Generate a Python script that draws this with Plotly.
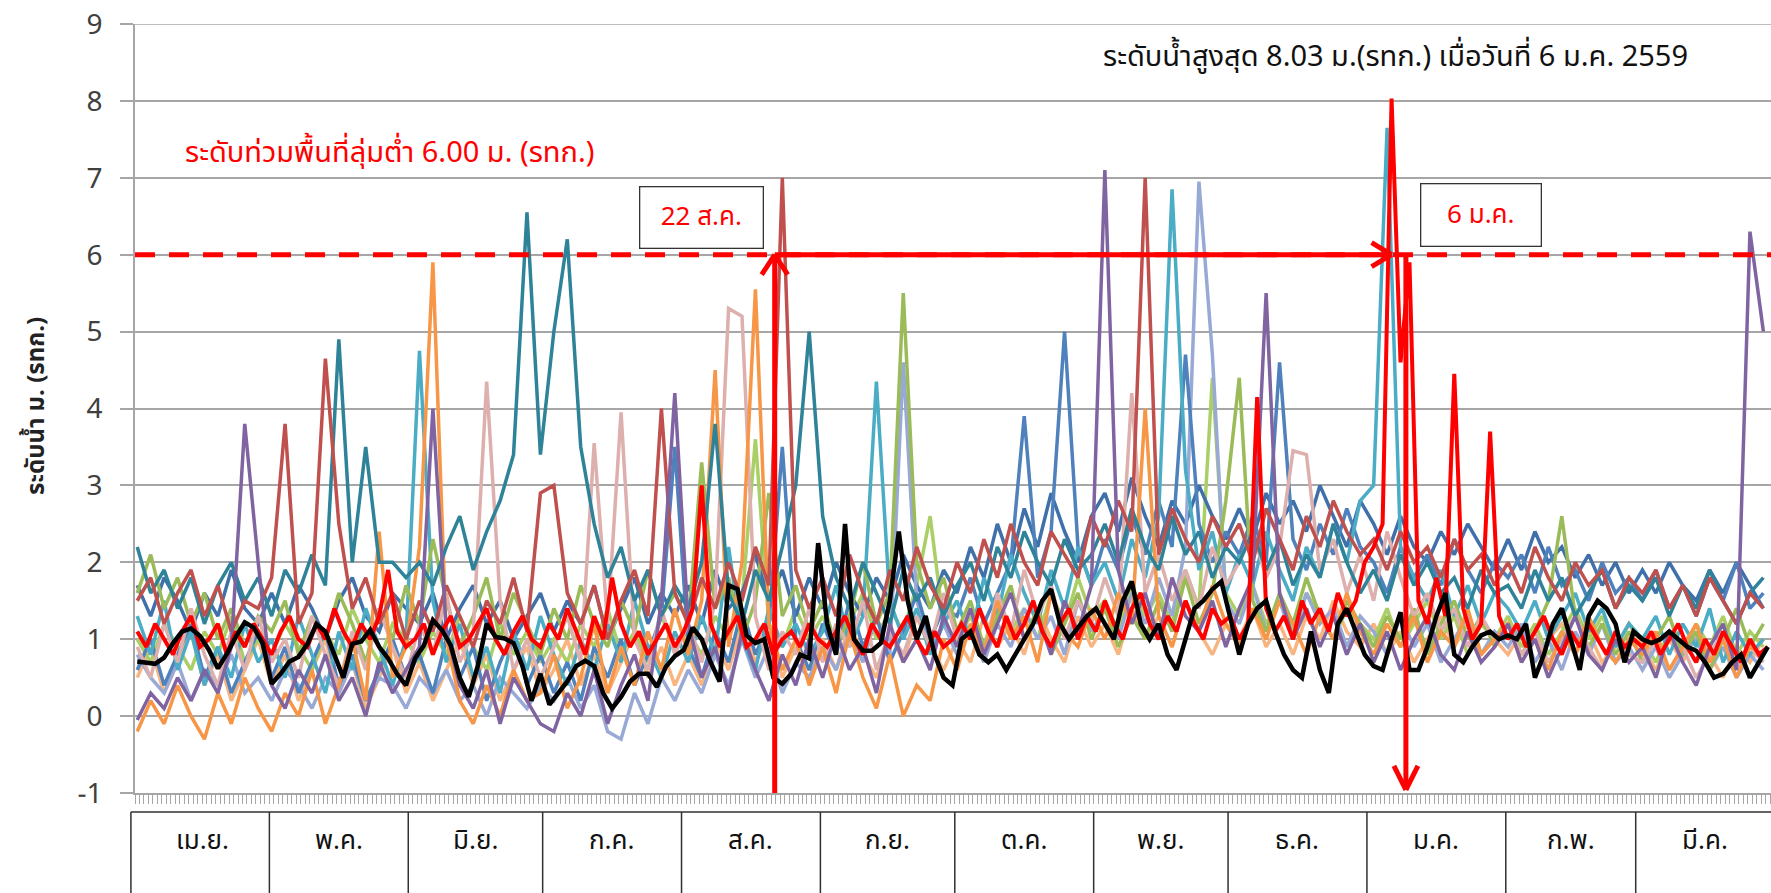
import plotly.graph_objects as go

FONT = "Leelawadee UI, Tahoma, Noto Sans Thai, Noto Sans, Arial, sans-serif"

months = ["เม.ย.", "พ.ค.", "มิ.ย.", "ก.ค.", "ส.ค.", "ก.ย.", "ต.ค.", "พ.ย.", "ธ.ค.", "ม.ค.", "ก.พ.", "มี.ค."]
month_start = [0, 30, 61, 91, 122, 153, 183, 214, 244, 275, 306, 335, 366]

days3 = list(range(0, 366, 3))
days2 = list(range(0, 366, 2))

# ---- historical years (every 3rd day) ----
s_purple = [
    -0.05, 0.3, 0.1, 0.5, 0.2, 0.6, 0.3, 0.9, 3.8, 2.0,
    0.4, 0.1, 0.6, 0.3, 0.8, 0.2, 0.5, 0.0, 0.7, 0.3, 0.6,
    0.9, 4.0, 1.1, 0.4, 0.1, 0.6, -0.1, 0.5, 0.2, -0.1,
    -0.2, 0.3, 0.0, 0.6, -0.1, 0.4, 0.8, 0.2, 1.5, 4.2,
    1.2, 0.5, 0.9, 0.3, 1.1, 0.6, 0.2, 0.8, 0.4, 1.0,
    0.5, 1.1, 0.6, 0.9, 0.3, 1.2, 0.7, 1.0, 0.6, 1.3,
    0.9, 1.4, 0.8, 1.2, 1.6, 1.0, 1.3, 0.8, 1.5, 1.1, 1.7,
    7.1, 1.9, 1.2, 1.6, 1.0, 1.8, 1.3, 1.1, 1.5, 0.9,
    1.4, 1.8, 5.5, 1.6, 1.0, 1.4, 0.9, 1.3, 0.8, 1.2,
    0.7, 1.1, 0.6, 1.0, 1.3, 0.8, 0.6, 1.1, 0.7, 0.9,
    1.2, 0.7, 1.0, 0.5, 0.9, 1.3, 0.8, 0.6, 1.0, 0.7,
    0.9, 0.5, 1.1, 0.7, 0.4, 0.9, 1.2, 0.6, 6.3, 5.0]

s_brownred = [
    1.5, 1.8, 1.2, 1.6, 1.9, 1.3, 1.7, 1.1, 1.5, 1.4,
    1.8, 3.8, 1.2, 1.6, 4.65, 2.5, 1.4, 1.8, 1.2, 1.6, 1.0,
    1.5, 1.1, 1.7, 1.3, 0.9, 1.5, 1.2, 1.8, 1.1, 2.9,
    3.0, 1.6, 1.2, 1.7, 1.0, 1.5, 1.9, 1.3, 4.0, 1.6,
    1.2, 1.8, 1.4, 2.0, 1.5, 2.2, 1.7, 7.0, 1.9, 1.4,
    1.8, 1.3, 2.1, 1.6, 1.2, 1.9, 1.5, 2.2, 1.7, 1.4,
    2.0, 1.6, 2.3, 1.8, 2.5, 2.0, 1.7, 2.4, 2.1, 1.8, 2.6,
    2.2, 2.8, 2.4, 7.0, 2.1, 2.7, 2.3, 2.0, 2.6, 2.2,
    2.5, 2.0, 2.7, 2.3, 1.9, 2.6, 2.2, 2.8, 2.4, 2.1,
    2.3, 1.9, 2.4, 2.0, 2.2, 1.8, 2.3, 1.9, 2.1, 1.7,
    2.0, 1.6, 2.2, 1.8, 1.5, 2.0, 1.7, 1.9, 1.4, 1.8,
    1.6, 1.9, 1.4, 1.7, 1.3, 1.8, 1.5, 1.2, 1.6, 1.4]

s_teal = [
    2.2, 1.6, 1.9, 1.4, 1.8, 1.2, 1.7, 2.0, 1.5, 1.8,
    1.3, 1.9, 1.6, 2.1, 1.7, 4.9, 2.0, 3.5, 2.0, 2.0, 1.8,
    2.0, 1.7, 2.2, 2.6, 1.9, 2.4, 2.8, 3.4, 6.55, 3.4,
    5.0, 6.2, 3.5, 2.5, 1.8, 2.2, 1.5, 1.9, 1.3, 1.7,
    1.4, 2.0, 3.8, 1.6, 1.2, 1.9, 1.5, 2.2, 3.0, 5.0,
    2.6, 1.8, 1.4, 2.0, 1.6, 1.2, 1.9, 1.5, 1.8, 1.3,
    1.7, 2.0, 1.5, 2.2, 1.8, 2.4, 2.0, 1.7, 2.3, 1.9, 2.1,
    2.5, 2.0, 2.7, 2.2, 1.9, 2.6, 2.1, 2.4, 1.8, 2.2,
    2.0, 2.4, 1.9, 2.3, 1.7, 2.1, 1.8, 2.5, 2.0, 1.6,
    1.9, 1.5, 2.1, 1.7, 2.0, 1.6, 1.8, 1.4, 1.9, 1.6,
    1.7, 1.4, 1.9, 1.5, 1.8, 1.3, 1.6, 1.9, 1.4, 1.7,
    1.5, 1.8, 1.3, 1.7, 1.4, 1.9, 1.5, 1.2, 1.6, 1.8]

s_orange = [
    -0.2, 0.2, -0.1, 0.4, 0.0, -0.3, 0.3, -0.1, 0.5, 0.1,
    -0.2, 0.3, 0.0, 0.6, -0.1, 0.4, 1.0, 0.2, 2.4, 0.5, 0.9,
    2.2, 5.9, 1.0, 0.2, -0.1, 0.4, 0.0, 0.6, 0.2, 0.3,
    0.8, 0.1, 0.5, 1.2, 0.3, 0.9, 0.4, 1.1, 0.6, 1.4,
    0.8, 1.5, 4.5, 0.9, 2.0, 5.55, 1.2, 0.6, 1.0, 0.4,
    0.9, 0.3, 1.1, 0.5, 0.1, 0.8, 0.0, 0.4, 0.2, 1.0,
    0.6, 1.2, 0.8, 1.5, 1.0, 1.3, 0.7, 1.6, 1.1, 0.9, 1.4,
    1.0, 1.6, 1.2, 4.0, 1.3, 0.9, 1.5, 1.1, 1.7, 1.2,
    0.9, 1.4, 1.0, 1.5, 1.2, 0.8, 1.3, 1.0, 1.6, 1.1,
    0.8, 1.2, 0.9, 1.3, 0.7, 1.1, 0.9, 1.4, 0.8, 1.0,
    1.2, 0.7, 1.0, 0.6, 1.1, 0.8, 1.3, 0.9, 0.7, 1.0,
    0.8, 1.1, 0.6, 0.9, 1.2, 0.7, 1.0, 0.5, 0.9, 0.8]

s_pink = [
    0.9, 0.5, 1.2, 0.7, 1.4, 0.8, 0.4, 1.1, 0.6, 1.3,
    0.7, 1.0, 0.5, 1.3, 0.8, 0.4, 1.1, 0.6, 1.4, 0.9, 0.5,
    1.2, 0.8, 1.6, 0.7, 1.1, 4.35, 1.5, 0.6, 1.0, 0.5,
    0.9, 1.3, 0.7, 3.55, 1.2, 3.95, 1.0, 0.6, 1.4, 0.8,
    1.2, 0.7, 1.5, 5.3, 5.2, 1.3, 0.6, 1.1, 0.8, 1.4,
    0.7, 1.2, 0.9, 1.5, 0.6, 1.1, 0.8, 1.3, 0.9, 1.6,
    1.0, 1.4, 0.8, 1.6, 1.1, 1.9, 1.3, 1.7, 1.0, 1.5, 1.2,
    1.8, 1.3, 4.2, 1.6, 2.1, 1.5, 1.9, 1.4, 2.2, 1.7,
    2.0, 2.4, 1.8, 2.2, 3.45, 3.4, 1.9, 2.3, 1.6, 2.1,
    1.5, 2.4, 1.8, 1.3, 1.6, 1.1, 1.4, 0.9, 1.3, 1.0,
    1.2, 0.8, 1.1, 0.7, 1.0, 1.3, 0.9, 0.6, 1.1, 0.8,
    0.7, 1.0, 0.6, 0.9, 0.5, 0.8, 1.1, 0.6, 0.9, 0.7]

s_green = [
    1.6, 2.1, 1.4, 1.8, 1.2, 1.6, 1.0, 1.4, 0.9, 1.3,
    1.1, 1.5, 0.8, 1.3, 1.0, 1.6, 1.2, 0.7, 1.4, 1.0, 1.7,
    1.2, 2.3, 1.5, 0.9, 1.3, 1.8, 1.0, 1.6, 1.2, 0.8,
    1.4, 1.0, 1.7, 1.2, 0.9, 1.5, 1.1, 1.9, 1.3, 1.6,
    1.2, 3.3, 1.4, 1.8, 1.0, 1.5, 2.9, 1.3, 1.7, 1.1,
    1.5, 0.9, 1.3, 2.0, 1.2, 1.6, 5.5, 2.0, 1.4, 1.8,
    1.1, 1.5, 0.9, 1.3, 1.7, 1.0, 1.4, 0.8, 1.2, 1.6, 1.0,
    1.4, 0.9, 1.3, 1.0, 1.5, 1.1, 1.8, 1.2, 1.6, 2.8,
    4.4, 1.5, 1.1, 1.6, 1.2, 1.8, 1.3, 1.0, 1.5, 1.2,
    0.9, 1.3, 1.0, 1.4, 0.8, 1.2, 1.5, 1.0, 1.3, 0.9,
    1.2, 0.8, 1.1, 1.5, 2.6, 1.3, 0.9, 1.2, 0.8, 1.1,
    0.7, 1.0, 1.3, 0.8, 1.1, 0.6, 1.0, 1.4, 0.9, 1.2]

s_aqua = [
    1.3, 0.8, 1.5, 0.6, 1.1, 0.4, 0.9, 0.5, 1.2, 0.7,
    1.0, 0.5, 1.3, 0.8, 0.3, 1.1, 0.6, 1.4, 0.9, 0.4, 1.0,
    4.75, 1.5, 0.7, 1.2, 0.5, 0.9, 0.3, 1.1, 0.6, 1.3,
    0.8, 0.4, 1.0, 0.6, 1.2, 0.7, 1.5, 0.9, 0.5, 1.1,
    0.7, 1.3, 0.8, 2.2, 1.0, 0.6, 1.4, 0.9, 1.2, 0.8,
    1.1, 1.7, 0.9, 1.3, 4.35, 1.5, 1.0, 1.4, 0.8, 1.2,
    1.5, 1.0, 1.8, 1.3, 2.1, 1.6, 1.2, 1.9, 1.4, 2.2, 1.7,
    2.0, 1.5, 2.3, 1.8, 2.6, 6.85, 3.2, 1.9, 2.4, 1.6,
    2.1, 1.7, 2.4, 1.9, 1.5, 2.2, 1.8, 2.5, 2.0, 2.8,
    3.0, 7.65, 2.2, 1.8, 1.5, 1.9, 1.3, 1.7, 1.2, 1.6,
    1.4, 1.1, 1.5, 1.0, 1.3, 1.6, 1.1, 1.4, 0.9, 1.2,
    1.0, 1.3, 0.8, 1.2, 0.9, 1.4, 0.7, 1.1, 0.8, 1.0]

s_blue = [
    0.6, 1.0, 0.4, 0.8, 1.2, 0.5, 0.9, 0.3, 0.7, 1.1,
    0.5, 0.9, 0.3, 0.7, 1.1, 0.4, 0.8, 0.2, 0.6, 1.0, 0.5,
    0.8, 0.3, 1.0, 0.5, 0.9, 0.2, 0.7, 1.1, 0.4, 0.8,
    0.3, 0.7, 0.2, 0.9, 0.5, 1.0, 0.4, 0.8, 1.3, 3.5,
    0.9, 0.5, 1.1, 0.7, 1.4, 0.8, 1.2, 3.5, 1.0, 0.6,
    1.2, 0.8, 1.5, 0.9, 1.3, 0.7, 1.1, 1.6, 1.0, 1.4,
    1.3, 1.8, 1.2, 1.6, 2.0, 3.9, 1.8, 2.4, 5.0, 2.2, 1.7,
    2.3, 1.9, 2.6, 2.1, 2.8, 2.2, 4.7, 2.5, 2.0, 2.4,
    2.1, 2.6, 2.0, 4.6, 2.3, 1.9, 2.5, 2.1, 2.7, 2.2,
    2.0, 1.6, 2.2, 1.8, 2.1, 1.7, 2.3, 1.9, 1.6, 2.0,
    1.8, 2.1, 1.6, 2.2, 1.7, 1.9, 1.5, 2.0, 1.6, 1.8,
    1.5, 1.9, 1.4, 1.7, 1.3, 1.8, 1.5, 2.0, 1.4, 1.6]

s_lavender = [
    0.8, 0.5, 0.3, 0.7, 0.2, 0.6, 0.4, 0.8, 0.3, 0.5,
    0.2, 0.6, 0.4, 0.1, 0.5, 0.3, 0.7, 0.2, 0.5, 0.4, 0.1,
    0.5, 0.3, 0.6, 0.2, 0.4, 0.0, 0.5, 0.3, 0.1, 0.4,
    0.2, 0.5, 0.1, 0.4, -0.2, -0.3, 0.3, -0.1, 0.5, 0.2,
    0.6, 0.3, 0.8, 0.4, 1.0, 0.5, 0.9, 0.3, 0.7, 0.5,
    0.9, 0.6, 1.1, 0.7, 1.3, 0.8, 4.6, 1.5, 0.9, 1.2,
    0.8, 1.1, 0.7, 1.2, 0.9, 1.4, 1.0, 1.3, 0.8, 1.5, 1.1,
    1.4, 1.0, 1.6, 1.2, 1.8, 1.3, 2.2, 6.95, 4.7, 1.5,
    1.2, 1.7, 1.1, 1.5, 1.0, 1.6, 1.2, 1.4, 0.9, 1.3,
    1.1, 0.8, 1.3, 0.9, 1.2, 0.7, 1.0, 1.3, 0.8, 1.1,
    0.9, 1.2, 0.7, 1.0, 0.6, 1.1, 0.8, 1.2, 0.7, 0.9,
    0.6, 0.9, 0.5, 0.8, 1.0, 0.6, 0.9, 0.5, 0.8, 0.6]

s_steel = [
    1.7, 1.3, 1.8, 1.5, 1.1, 1.6, 1.3, 1.9, 1.4, 1.2,
    1.6, 1.2, 1.7, 1.4, 1.0, 1.5, 1.8, 1.3, 1.1, 1.6, 1.4,
    1.2, 1.6, 1.0, 1.4, 1.7, 1.2, 1.5, 1.0, 1.3, 1.6,
    1.1, 1.5, 1.2, 1.7, 1.0, 1.4, 1.8, 1.2, 1.6, 1.3,
    1.7, 1.2, 1.9, 1.4, 1.6, 2.1, 1.5, 1.9, 1.3, 1.8,
    1.4, 2.0, 1.6, 1.3, 1.8, 1.5, 2.1, 1.7, 1.4, 1.9,
    1.6, 2.2, 1.8, 2.5, 2.0, 2.7, 2.2, 2.9, 2.4, 2.0, 2.6,
    2.9, 2.4, 3.1, 2.6, 2.2, 2.8, 2.5, 3.0, 2.6, 2.3,
    2.7, 2.3, 2.9, 2.5, 2.8, 2.4, 3.0, 2.6, 2.2, 2.8,
    2.5, 2.1, 2.6, 2.2, 2.0, 2.4, 2.1, 2.5, 2.2, 1.9,
    2.3, 1.9, 2.4, 2.0, 2.2, 1.8, 2.1, 1.7, 2.0, 1.6,
    1.9, 1.6, 2.0, 1.7, 1.5, 1.9, 1.6, 2.0, 1.7, 1.4]

s_lime = [
    1.0, 0.7, 1.2, 0.9, 0.6, 1.1, 0.8, 1.3, 0.7, 1.0,
    0.8, 1.2, 0.9, 0.6, 1.1, 0.8, 1.4, 1.0, 0.7, 1.2, 1.0,
    0.7, 1.1, 0.8, 1.3, 0.9, 0.6, 1.2, 0.8, 1.1, 0.7,
    1.0, 0.7, 1.2, 0.9, 1.4, 0.8, 1.1, 0.7, 1.3, 0.9,
    1.1, 0.8, 1.3, 1.0, 1.5, 3.6, 1.2, 0.9, 1.4, 1.0,
    1.3, 0.9, 1.2, 1.6, 1.0, 1.4, 1.1, 1.7, 2.6, 1.2,
    1.0, 1.3, 0.9, 1.5, 1.1, 1.4, 1.0, 1.6, 1.2, 1.8, 1.3,
    1.5, 1.1, 1.7, 1.3, 1.6, 1.2, 1.9, 1.4, 4.4, 1.6,
    1.3, 1.7, 1.2, 1.5, 1.1, 1.6, 1.3, 1.0, 1.4, 1.2,
    1.0, 1.4, 0.9, 1.2, 1.5, 1.0, 1.3, 0.8, 1.2, 1.0,
    1.3, 0.9, 1.2, 0.8, 1.1, 1.4, 1.0, 1.3, 0.9, 1.2,
    1.0, 0.7, 1.1, 0.8, 1.2, 0.9, 1.3, 0.8, 1.1, 0.9]

s_peach = [
    0.5, 0.9, 0.3, 0.7, 1.1, 0.4, 0.8, 0.2, 0.6, 1.0,
    0.4, 0.8, 0.2, 0.6, 1.0, 0.3, 0.7, 0.1, 0.5, 0.9, 0.3,
    0.7, 0.2, 0.6, 1.0, 0.4, 0.8, 0.2, 0.6, 0.9, 0.3,
    0.6, 1.0, 0.4, 0.8, 0.3, 0.7, 1.1, 0.5, 0.9, 0.4,
    0.8, 0.4, 1.0, 0.6, 1.2, 0.7, 1.1, 0.5, 0.9, 0.6,
    1.0, 0.6, 1.2, 0.8, 0.5, 1.1, 0.7, 1.3, 0.9, 0.6,
    1.0, 0.7, 1.3, 0.9, 1.2, 0.8, 1.4, 1.0, 0.7, 1.3, 0.9,
    1.2, 0.8, 1.4, 1.0, 1.3, 0.9, 1.5, 1.1, 0.8, 1.2,
    1.0, 1.4, 0.9, 1.2, 0.8, 1.3, 1.0, 1.5, 1.1, 0.9,
    1.2, 0.8, 1.1, 0.7, 1.0, 1.3, 0.9, 1.2, 0.8, 1.0,
    0.8, 1.1, 0.7, 1.0, 1.2, 0.8, 1.1, 0.7, 0.9, 1.2,
    0.9, 0.6, 1.0, 0.7, 1.1, 0.8, 0.5, 0.9, 0.7, 1.0]

# ---- year 2558/59 (red) and current year (black), every 2nd day ----
s_red = [
    1.1, 0.9, 1.2, 1.0, 0.8, 1.1, 1.3, 0.9, 1.0, 1.2, 0.8, 1.1, 0.9, 1.2, 1.0,
    0.8, 1.1, 1.3, 1.0, 0.9, 1.2, 1.0, 1.4, 1.1, 0.9, 1.2, 1.0, 1.3, 1.9, 1.1, 0.9,
    1.0, 1.2, 0.8, 1.1, 1.3, 0.9, 1.0, 1.2, 1.4, 1.0, 0.8, 1.1, 1.3, 1.0, 0.9,
    1.2, 1.0, 1.4, 1.1, 0.8, 1.3, 1.0, 1.8, 1.2, 0.9, 1.1, 0.8, 1.0, 1.2, 0.9,
    1.1, 1.4, 3.0, 1.2, 0.9, 1.1, 1.3, 0.9, 1.0, 1.2, 0.8, 1.0, 1.1, 0.9, 1.2, 1.0,
    0.9, 1.1, 1.3, 1.0, 0.8, 1.2, 1.0, 0.9, 1.1, 1.3, 1.0, 0.8, 1.1, 0.9, 1.0,
    1.2, 1.0, 1.4, 1.1, 0.9, 1.3, 1.0, 1.2, 1.5, 1.1, 0.9, 1.2, 1.4, 1.0, 1.3,
    1.1, 1.5, 1.2, 1.0, 1.4, 1.6, 1.2, 1.0, 1.3, 1.1, 1.5, 1.2, 1.0, 1.4, 1.2,
    1.3, 1.0, 1.2, 4.15, 1.4, 1.1, 1.3, 1.0, 1.5, 1.2, 1.4, 1.1, 1.6, 1.3, 1.5, 2.0,
    2.2, 2.5, 8.03, 4.6, 5.9, 1.5, 1.2, 1.8, 1.3, 4.45, 1.4, 1.0, 1.2, 3.7, 1.3,
    1.0, 1.2, 0.9, 1.1, 1.3, 1.0, 0.8, 1.1, 0.9, 1.2, 1.0, 0.8, 1.1, 0.9, 1.0,
    0.9, 1.1, 0.8, 1.0, 1.2, 0.9, 0.7, 1.0, 0.8, 1.1, 0.9, 0.7, 1.0, 0.8, 0.9]

s_black = [
    0.71, 0.7, 0.68, 0.76, 0.95, 1.1, 1.14, 1.04, 0.86, 0.62, 0.81, 1.03, 1.22, 1.15, 0.95,
    0.42, 0.55, 0.71, 0.77, 0.94, 1.2, 1.1, 0.8, 0.5, 0.94, 0.97, 1.12, 0.9, 0.75, 0.55, 0.4,
    0.75, 0.92, 1.25, 1.12, 0.92, 0.5, 0.25, 0.65, 1.2, 1.03, 1.01, 0.95, 0.65, 0.2, 0.55,
    0.15, 0.3, 0.45, 0.65, 0.72, 0.65, 0.3, 0.1, 0.25, 0.45, 0.55, 0.55, 0.38, 0.64, 0.78,
    0.86, 1.15, 1.0, 0.7, 0.45, 1.7, 1.65, 1.05, 0.95, 1.0, 0.5, 0.42, 0.55, 0.8, 0.75, 2.25,
    1.2, 0.8, 2.5, 1.0, 0.85, 0.85, 0.95, 1.5, 2.4, 1.5, 1.0, 1.3, 0.8, 0.5, 0.4,
    1.0, 1.1, 0.8, 0.7, 0.8, 0.6, 0.8, 1.0, 1.2, 1.5, 1.65, 1.2, 1.0, 1.15, 1.3,
    1.4, 1.2, 1.0, 1.5, 1.75, 1.2, 1.0, 1.2, 0.8, 0.6, 1.0, 1.4, 1.5, 1.65, 1.75,
    1.3, 0.8, 1.2, 1.4, 1.5, 1.1, 0.8, 0.6, 0.5, 1.1, 0.6, 0.3, 1.2, 1.4, 1.1, 0.8,
    0.65, 0.6, 1.0, 1.35, 0.6, 0.6, 0.9, 1.3, 1.6, 0.8, 0.7, 0.9, 1.05, 1.1, 1.0,
    1.05, 1.0, 1.2, 0.5, 0.8, 1.2, 1.4, 1.0, 0.6, 1.3, 1.5, 1.4, 1.2, 0.7, 1.1,
    1.0, 0.95, 1.0, 1.1, 1.0, 0.9, 0.85, 0.7, 0.5, 0.55, 0.7, 0.8, 0.5, 0.7, 0.9]

flood_level = 6.0
peak_day = 280      # 6 ม.ค.
start_day = 142.3   # 22 ส.ค.
arrow_down_day = 283.2

background = [
    (s_peach, "#F9B580"), (s_lime, "#A9CF66"), (s_steel, "#3F70AA"),
    (s_lavender, "#98A9D6"), (s_blue, "#4F81BD"), (s_aqua, "#4BACC6"),
    (s_green, "#9BBB59"), (s_pink, "#DDAFAD"), (s_orange, "#F79646"),
    (s_teal, "#2E8399"), (s_brownred, "#C0504D"), (s_purple, "#8064A2"),
]

fig = go.Figure()
for vals, col in background:
    fig.add_trace(go.Scatter(x=days3, y=vals, mode="lines",
                             line=dict(color=col, width=3.5), hoverinfo="skip"))
fig.add_trace(go.Scatter(x=days2, y=s_red, mode="lines",
                         line=dict(color="#FF0000", width=4), hoverinfo="skip"))
fig.add_trace(go.Scatter(x=days2, y=s_black, mode="lines",
                         line=dict(color="#000000", width=4.5), hoverinfo="skip"))

RED = "#FF0000"
GRID = "#A6A6A6"
shapes = []
shapes.append(dict(type="line", xref="paper", x0=-13 / 1636, x1=1, yref="y", y0=9, y1=9,
                   line=dict(color=GRID, width=1.5), layer="below"))
shapes.append(dict(type="line", xref="paper", x0=0, x1=1, yref="y", y0=flood_level, y1=flood_level,
                   line=dict(color=RED, width=5, dash="20px,14px"), layer="above"))
shapes.append(dict(type="line", xref="x", yref="y", x0=start_day, x1=start_day, y0=-1, y1=flood_level,
                   line=dict(color=RED, width=5)))
for dx in (-13, 13):
    shapes.append(dict(type="line", xref="x", yref="y", xsizemode="pixel", xanchor=start_day,
                       x0=dx, x1=0, ysizemode="pixel", yanchor=flood_level, y0=-20, y1=0,
                       line=dict(color=RED, width=5)))
shapes.append(dict(type="line", xref="x", yref="y", x0=start_day, x1=peak_day, y0=flood_level, y1=flood_level,
                   line=dict(color=RED, width=5)))
for dy in (-12, 12):
    shapes.append(dict(type="line", xref="x", yref="y", xsizemode="pixel", xanchor=peak_day,
                       x0=-20, x1=0, ysizemode="pixel", yanchor=flood_level, y0=dy, y1=0,
                       line=dict(color=RED, width=5)))
shapes.append(dict(type="line", xref="x", yref="y", x0=arrow_down_day, x1=arrow_down_day, y0=flood_level, y1=-0.96,
                   line=dict(color=RED, width=5)))
for dx in (-12, 12):
    shapes.append(dict(type="line", xref="x", yref="y", xsizemode="pixel", xanchor=arrow_down_day,
                       x0=dx, x1=0, ysizemode="pixel", yanchor=-0.96, y0=24, y1=0,
                       line=dict(color=RED, width=5)))

# month table below the axis
TABLE_TOP = -0.0247
TABLE_BOT = -0.14
shapes.append(dict(type="line", xref="paper", yref="paper", x0=-0.0025, x1=1, y0=TABLE_TOP, y1=TABLE_TOP,
                   line=dict(color="#303030", width=1.5)))
shapes.append(dict(type="line", xref="paper", yref="paper", x0=-0.0025, x1=-0.0025, y0=TABLE_TOP, y1=TABLE_BOT,
                   line=dict(color="#303030", width=1.5)))
for s in month_start[1:12]:
    shapes.append(dict(type="line", xref="x", yref="paper", x0=s - 0.5, x1=s - 0.5, y0=TABLE_TOP, y1=TABLE_BOT,
                       line=dict(color="#303030", width=1.5)))

annotations = []
for i, m in enumerate(months):
    annotations.append(dict(xref="x", yref="paper", x=(month_start[i] + month_start[i + 1]) / 2 - 0.5,
                            y=-0.062, text=m, showarrow=False, font=dict(size=26, color="#111111"),
                            xanchor="center", yanchor="middle"))

annotations.append(dict(xref="paper", yref="paper", x=-0.060, y=0.503, text="ระดับน้ำ ม. (รทก.)",
                        textangle=-90, showarrow=False, font=dict(size=24, color="#222222", weight="bold"),
                        xanchor="center", yanchor="middle"))
annotations.append(dict(xref="x", yref="y", x=215.1, y=8.57,
                        text="ระดับน้ำสูงสุด 8.03 ม.(รทก.) เมื่อวันที่ 6 ม.ค. 2559",
                        showarrow=False, xanchor="left", yanchor="middle",
                        font=dict(size=29, color="#111111")))
annotations.append(dict(xref="x", yref="y", x=10.2, y=7.32,
                        text="ระดับท่วมพื้นที่ลุ่มต่ำ 6.00 ม. (รทก.)",
                        showarrow=False, xanchor="left", yanchor="middle",
                        font=dict(size=29, color=RED)))
annotations.append(dict(xref="x", yref="y", x=125.9, y=6.48, text="22 ส.ค.", showarrow=False,
                        width=118, height=56, bordercolor="#333333", borderwidth=1.3, borderpad=2,
                        bgcolor="white", font=dict(size=26, color=RED)))
annotations.append(dict(xref="x", yref="y", x=299.9, y=6.51, text="6 ม.ค.", showarrow=False,
                        width=115, height=57, bordercolor="#333333", borderwidth=1.3, borderpad=2,
                        bgcolor="white", font=dict(size=26, color=RED)))

fig.update_layout(
    width=1771, height=893,
    margin=dict(l=135, r=0, t=24, b=100),
    plot_bgcolor="white", paper_bgcolor="white",
    showlegend=False,
    hovermode=False,
    font=dict(family=FONT),
    shapes=shapes,
    annotations=annotations,
    xaxis=dict(range=[-0.5, 364.7], showgrid=False, zeroline=False, showline=True,
               linecolor=GRID, linewidth=1.5, ticks="outside", ticklen=9, tickcolor=GRID,
               tickwidth=1, tick0=0.5, dtick=1, showticklabels=False, automargin=False),
    yaxis=dict(range=[-1, 9], tickmode="array", tickvals=list(range(-1, 10)),
               showgrid=True, gridcolor=GRID, gridwidth=1.5,
               zeroline=False, showline=True, linecolor=GRID, linewidth=1.5,
               ticks="outside", ticklen=13, tickcolor=GRID, tickwidth=1.5,
               tickfont=dict(size=28, color="#404040"), ticklabelstandoff=12,
               ticklabeloverflow="allow", automargin=False),
)

# remove the browser's default 8px page margin so the figure sits at the window origin
fig.write_html("out.html", config={"displayModeBar": False},
               post_script="document.body.style.margin='0';document.body.style.overflow='hidden';")
